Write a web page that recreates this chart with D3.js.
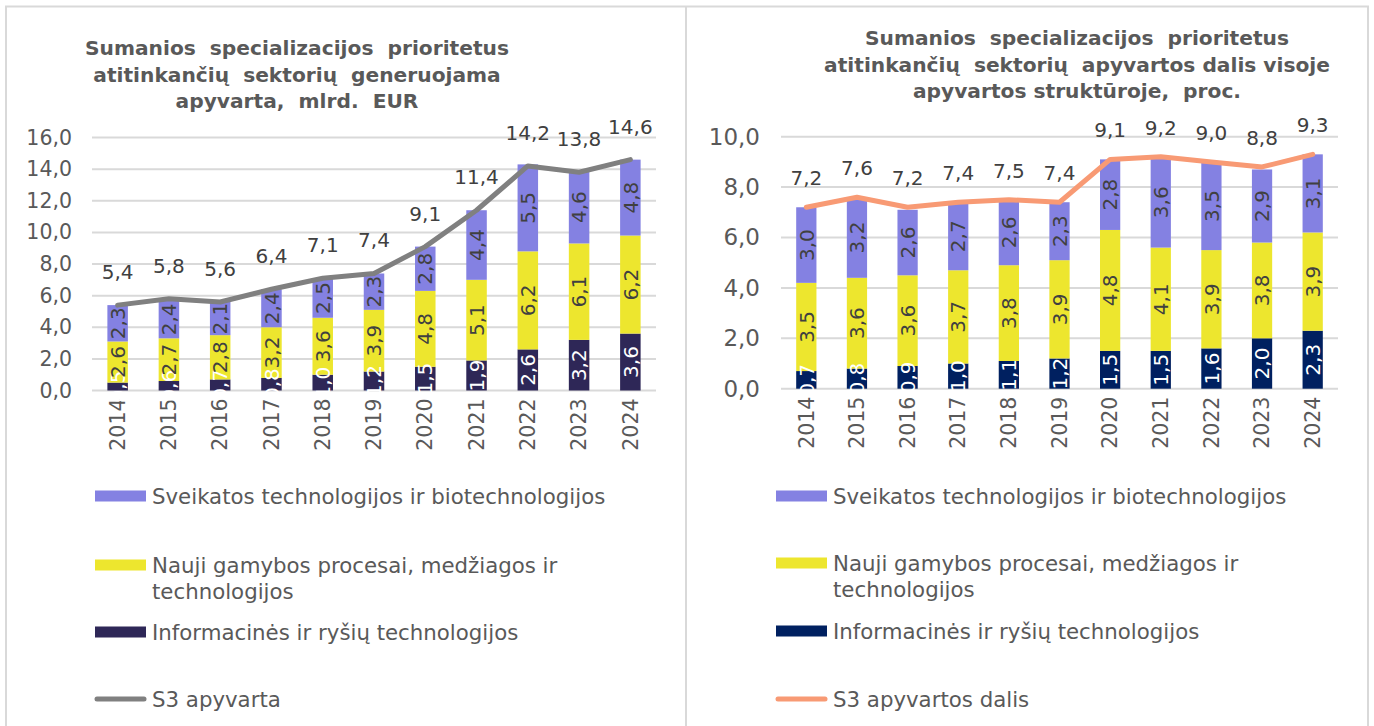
<!DOCTYPE html>
<html>
<head>
<meta charset="utf-8">
<script src="https://cdn.jsdelivr.net/npm/d3@7"></script>
<style>
  html, body { margin: 0; padding: 0; background: #ffffff; }
  svg { display: block; }
  text { font-family: "DejaVu Sans", Verdana, sans-serif; }
  .pre { white-space: pre; }
</style>
</head>
<body>
<svg id="chart" width="1374" height="726"></svg>
<script>
// ---------- DATA ----------
const years = ["2014","2015","2016","2017","2018","2019","2020","2021","2022","2023","2024"];

const seriesNames = [
  "Sveikatos technologijos ir biotechnologijos",
  "Nauji gamybos procesai, medžiagos ir technologijos",
  "Informacinės ir ryšių technologijos"
];

// Left chart: turnover, bn EUR
const leftICT    = [0.5, 0.6, 0.7, 0.8, 1.0, 1.2, 1.5, 1.9, 2.6, 3.2, 3.6];
const leftManuf  = [2.6, 2.7, 2.8, 3.2, 3.6, 3.9, 4.8, 5.1, 6.2, 6.1, 6.2];
const leftHealth = [2.3, 2.4, 2.1, 2.4, 2.5, 2.3, 2.8, 4.4, 5.5, 4.6, 4.8];
const leftTotal  = [5.4, 5.8, 5.6, 6.4, 7.1, 7.4, 9.1, 11.4, 14.2, 13.8, 14.6];
const leftTicks  = [0, 2, 4, 6, 8, 10, 12, 14, 16];
const leftLineName = "S3 apyvarta";
const leftTitle = ["Sumanios  specializacijos  prioritetus", "atitinkančių  sektorių  generuojama", "apyvarta,  mlrd.  EUR"];

// Right chart: share of total turnover, %
const rightICT    = [0.7, 0.8, 0.9, 1.0, 1.1, 1.2, 1.5, 1.5, 1.6, 2.0, 2.3];
const rightManuf  = [3.5, 3.6, 3.6, 3.7, 3.8, 3.9, 4.8, 4.1, 3.9, 3.8, 3.9];
const rightHealth = [3.0, 3.2, 2.6, 2.7, 2.6, 2.3, 2.8, 3.6, 3.5, 2.9, 3.1];
const rightShare  = [7.2, 7.6, 7.2, 7.4, 7.5, 7.4, 9.1, 9.2, 9.0, 8.8, 9.3];
const rightTicks  = [0, 2, 4, 6, 8, 10];
const rightLineName = "S3 apyvartos dalis";
const rightTitle = ["Sumanios  specializacijos  prioritetus", "atitinkančių  sektorių  apyvartos dalis visoje", "apyvartos struktūroje,  proc."];

// ---------- DRAW ----------
const svg = d3.select("#chart");
const fmt = v => d3.format(".1f")(v).replace(".", ",");
const FONT = '"DejaVu Sans", Verdana, sans-serif';

// panel borders
svg.append("line").attr("x1", 5).attr("x2", 1369).attr("y1", 6.5).attr("y2", 6.5)
  .attr("stroke", "#d9d9d9").attr("stroke-width", 2);
[6, 686, 1368].forEach(x => {
  svg.append("line").attr("x1", x).attr("x2", x).attr("y1", 6).attr("y2", 726)
    .attr("stroke", "#d9d9d9").attr("stroke-width", 2);
});

function drawPanel(cfg) {
  const g = svg.append("g");
  const x = d3.scaleBand().domain(years).range([cfg.x0, cfg.x1]).paddingInner(cfg.pad).paddingOuter(cfg.pad / 2);
  const y = d3.scaleLinear().domain([0, cfg.ymax]).range([cfg.yb, cfg.yt]);

  // title
  const title = g.append("text").attr("class", "pre").attr("text-anchor", "middle")
    .attr("font-weight", "bold").attr("font-size", cfg.titleSize).attr("fill", "#595959");
  cfg.title.forEach((t, i) => {
    title.append("tspan").attr("x", cfg.titleX).attr("y", cfg.titleY + i * cfg.titleLH).text(t);
  });

  // gridlines
  g.selectAll(".grid").data(cfg.ticks).join("line")
    .attr("x1", cfg.x0).attr("x2", cfg.x1)
    .attr("y1", d => y(d)).attr("y2", d => y(d))
    .attr("stroke", "#d9d9d9").attr("stroke-width", 2);

  // y axis
  const yAxis = d3.axisLeft(y).tickValues(cfg.ticks).tickFormat(fmt).tickSize(0).tickPadding(cfg.yPad);
  const ya = g.append("g").attr("transform", `translate(${cfg.x0},0)`).call(yAxis);
  ya.select(".domain").remove();
  ya.selectAll("text").attr("font-size", cfg.yFont).attr("fill", "#595959").attr("font-family", FONT);

  // x axis
  const xAxis = d3.axisBottom(x).tickSize(0).tickPadding(0);
  const xa = g.append("g").attr("transform", `translate(0,${cfg.yb})`).call(xAxis);
  xa.select(".domain").remove();
  xa.selectAll("text").attr("font-size", 20.5).attr("fill", "#595959").attr("font-family", FONT)
    .attr("transform", "rotate(-90)")
    .attr("text-anchor", "end").attr("dy", "0.35em").attr("x", -8).attr("y", 0);

  // stacked bars
  const rows = years.map((yr, i) => ({ year: yr, ict: cfg.ict[i], manuf: cfg.manuf[i], health: cfg.health[i] }));
  const stack = d3.stack().keys(["ict", "manuf", "health"])(rows);
  const colors = { ict: cfg.ictColor, manuf: "#ede62e", health: "#8481e2" };
  const labelColors = { ict: "#ffffff", manuf: "#404040", health: "#404040" };

  stack.forEach(layer => {
    g.append("g").selectAll("rect").data(layer).join("rect")
      .attr("x", d => x(d.data.year))
      .attr("width", x.bandwidth())
      .attr("y", d => y(d[1]))
      .attr("height", d => y(d[0]) - y(d[1]))
      .attr("fill", colors[layer.key]);
  });
  stack.forEach(layer => {
    g.append("g").selectAll("text").data(layer).join("text")
      .attr("transform", d => `translate(${x(d.data.year) + x.bandwidth() / 2},${(y(d[0]) + y(d[1])) / 2}) rotate(-90)`)
      .attr("text-anchor", "middle").attr("dy", "0.36em")
      .attr("font-size", 20).attr("fill", labelColors[layer.key])
      .text(d => fmt(d.data[layer.key]));
  });

  // total line
  const line = d3.line().x((d, i) => x(years[i]) + x.bandwidth() / 2).y(d => y(d));
  g.append("path").datum(cfg.line).attr("d", line)
    .attr("fill", "none").attr("stroke", cfg.lineColor).attr("stroke-width", 5)
    .attr("stroke-linejoin", "round").attr("stroke-linecap", "round");

  g.append("g").selectAll("text").data(cfg.line).join("text")
    .attr("x", (d, i) => x(years[i]) + x.bandwidth() / 2)
    .attr("y", d => y(d) - cfg.lblOff)
    .attr("text-anchor", "middle").attr("font-size", 20).attr("fill", "#404040")
    .text(d => fmt(d));

  // legend
  const lgd = g.append("g");
  const items = [
    { name: seriesNames[0], type: "rect", color: colors.health, y: cfg.legY[0] },
    { name: seriesNames[1], type: "rect", color: colors.manuf, y: cfg.legY[1], wrap: ["Nauji gamybos procesai, medžiagos ir", "technologijos"] },
    { name: seriesNames[2], type: "rect", color: colors.ict, y: cfg.legY[2] },
    { name: cfg.lineName, type: "line", color: cfg.lineColor, y: cfg.legY[3] }
  ];
  items.forEach(it => {
    if (it.type === "rect") {
      lgd.append("rect").attr("x", cfg.legX).attr("y", it.y - 5.5).attr("width", 51).attr("height", 11).attr("fill", it.color);
    } else {
      lgd.append("line").attr("x1", cfg.legX + 2).attr("x2", cfg.legX + 49).attr("y1", it.y).attr("y2", it.y)
        .attr("stroke", it.color).attr("stroke-width", 5).attr("stroke-linecap", "round");
    }
    const t = lgd.append("text").attr("font-size", 21.3).attr("fill", "#595959");
    const lines = it.wrap || [it.name];
    lines.forEach((l, i) => {
      t.append("tspan").attr("x", cfg.legX + 57).attr("y", it.y + i * 26).attr("dy", "0.36em").text(l);
    });
  });
}

drawPanel({
  x0: 92, x1: 656, yb: 390.5, yt: 137.5, ymax: 16, pad: 0.6,
  ticks: leftTicks, ict: leftICT, manuf: leftManuf, health: leftHealth, line: leftTotal,
  ictColor: "#2e2757", lineColor: "#808080", lineName: leftLineName,
  title: leftTitle, titleX: 297, titleY: 55, titleLH: 26.5, titleSize: 20.2,
  yFont: 20.5, yPad: 20, lblOff: 26,
  legX: 95, legY: [496, 565, 632, 699]
});

drawPanel({
  x0: 781, x1: 1338, yb: 388.7, yt: 136.7, ymax: 10, pad: 0.6,
  ticks: rightTicks, ict: rightICT, manuf: rightManuf, health: rightHealth, line: rightShare,
  ictColor: "#002060", lineColor: "#f89a74", lineName: rightLineName,
  title: rightTitle, titleX: 1077, titleY: 45, titleLH: 26.5, titleSize: 20.2,
  yFont: 23, yPad: 21, lblOff: 22,
  legX: 776, legY: [496, 563, 631, 699]
});
</script>
</body>
</html>
